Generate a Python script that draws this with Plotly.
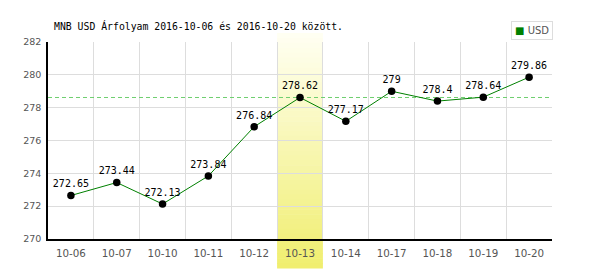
import plotly.graph_objects as go

dates = ["10-06", "10-07", "10-10", "10-11", "10-12", "10-13", "10-14", "10-17", "10-18", "10-19", "10-20"]
usd = [272.65, 273.44, 272.13, 273.84, 276.84, 278.62, 277.17, 279.0, 278.4, 278.64, 279.86]
labels = ["272.65", "273.44", "272.13", "273.84", "276.84", "278.62", "277.17", "279", "278.4", "278.64", "279.86"]
highlight = "10-13"
title = "MNB USD Árfolyam 2016-10-06 és 2016-10-20 között."
series_name = "USD"

W, H = 600, 270
L, R, T, B = 48, 48, 42, 31
ph = H - T - B

xs = list(range(len(dates)))
hi = dates.index(highlight)
ref = usd[hi]

fig = go.Figure()
fig.add_trace(go.Scatter(
    x=xs, y=usd, mode="lines+markers+text",
    text=labels, textposition="top center",
    textfont=dict(family="DejaVu Sans Mono", size=10, color="#000"),
    line=dict(color="#008000", width=1),
    marker=dict(color="#000", size=7.5),
    showlegend=False, cliponaxis=False, hoverinfo="skip",
))

shapes = []
# reference dashed line
shapes.append(dict(type="line", xref="x", yref="y", x0=-0.5, x1=len(dates) - 0.5,
                   y0=ref, y1=ref, line=dict(color="#6fcf6f", width=1, dash="4px,3px"),
                   layer="between"))
# gradient band
def py2paper(p):
    return (H - B - p) / ph
top_p, bot_p = 33, 268
N = 48
c_top = (255, 255, 243)
c_bot = (240, 238, 110)
for i in range(N):
    p0 = top_p + (bot_p - top_p) * i / N
    p1 = top_p + (bot_p - top_p) * (i + 1) / N
    t = (i + 0.5) / N
    c = tuple(round(c_top[k] + (c_bot[k] - c_top[k]) * t) for k in range(3))
    shapes.append(dict(type="rect", xref="x", yref="paper",
                       x0=hi - 0.5, x1=hi + 0.5,
                       y0=py2paper(p1 + 0.6), y1=py2paper(p0),
                       fillcolor="rgb(%d,%d,%d)" % c, line=dict(width=0),
                       layer="between"))

fig.update_layout(
    width=W, height=H,
    margin=dict(l=L, r=R, t=T, b=B, pad=0),
    paper_bgcolor="#fff", plot_bgcolor="#fff",
    shapes=shapes,
    title=dict(text=title, x=54 / W, xanchor="left", xref="container",
               y=1 - 27 / H, yanchor="middle", yref="container",
               font=dict(family="DejaVu Sans Mono", size=9.8, color="#000")),
    xaxis=dict(range=[-0.5, len(dates) - 0.5], tickvals=xs, ticktext=dates,
               showgrid=False, zeroline=False,
               minor=dict(tick0=0.5, dtick=1, showgrid=True, gridcolor="#dddddd", gridwidth=1),
               showline=True, linecolor="#000", linewidth=2,
               ticks="outside", ticklen=4, tickcolor="rgba(0,0,0,0)",
               tickfont=dict(family="DejaVu Sans", size=10.3, color="#555")),
    yaxis=dict(range=[270, 282], dtick=2, showgrid=True, gridcolor="#dddddd", gridwidth=1,
               zeroline=False, showline=True, linecolor="#000", linewidth=1.5,
               ticks="outside", ticklen=3, tickcolor="rgba(0,0,0,0)",
               tickfont=dict(family="DejaVu Sans", size=9.5, color="#555")),
    annotations=[dict(
        text='<span style="color:#008000">■</span> ' + series_name,
        xref="paper", yref="paper",
        x=(553 - L) / (W - L - R), y=py2paper(21), xanchor="right", yanchor="top",
        showarrow=False, bgcolor="#fff", bordercolor="#dddddd", borderwidth=1, borderpad=3,
        font=dict(family="DejaVu Sans", size=10, color="#555"),
    )],
)

fig.write_html("out.html")
